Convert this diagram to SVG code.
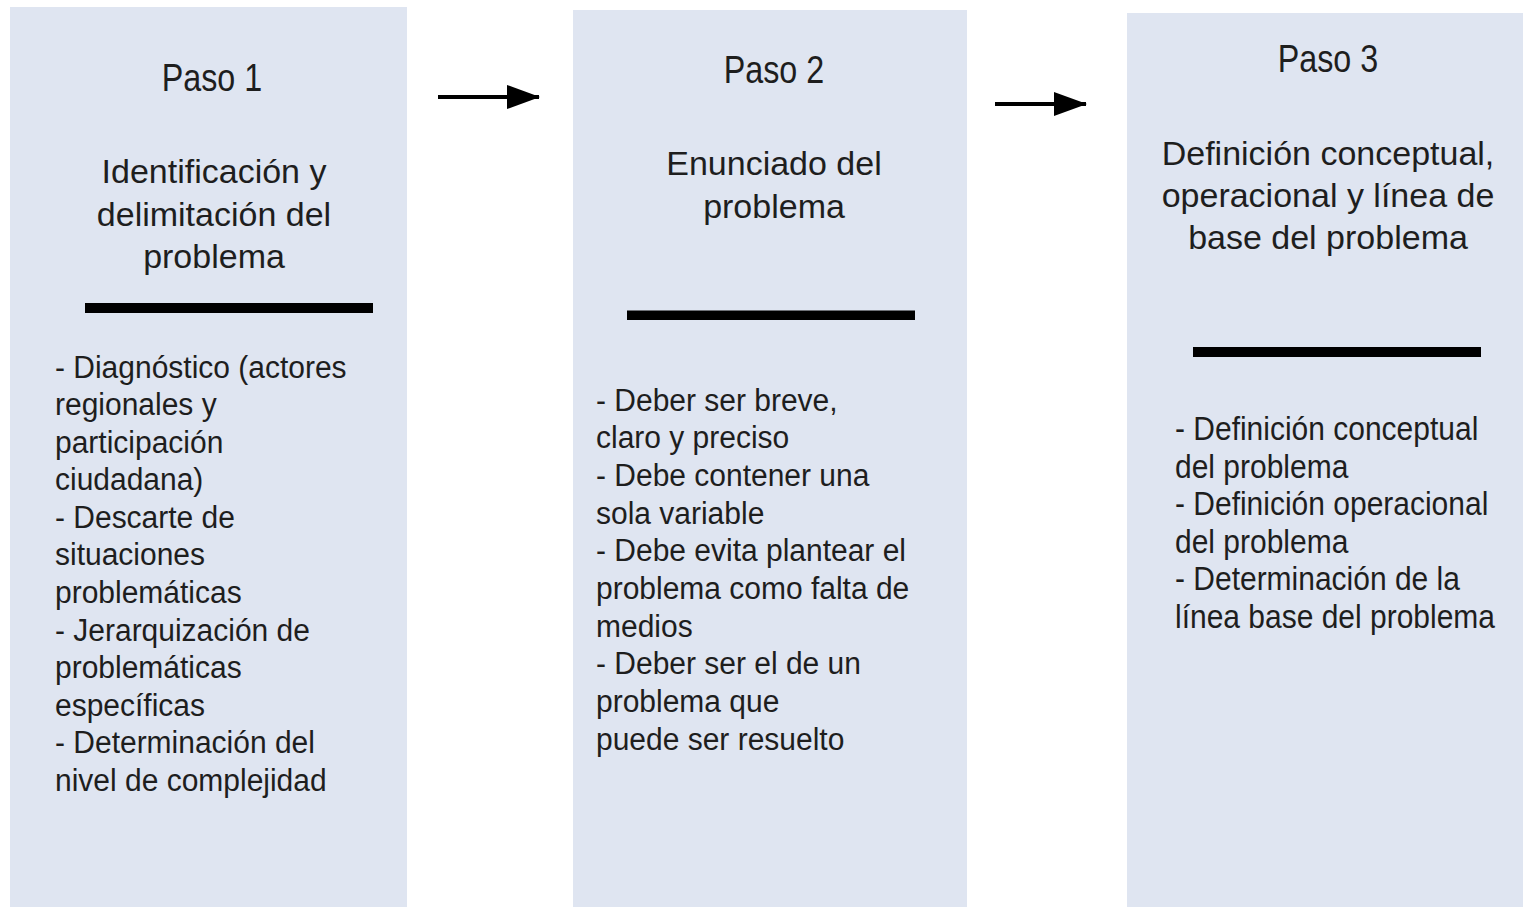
<svg xmlns="http://www.w3.org/2000/svg" width="1523" height="907" viewBox="0 0 1523 907">
<style>
.box{fill:#dfe5f1}
.bar{fill:#000}
text{font-family:"Liberation Sans",Arial,sans-serif;fill:#1e1e1e}
.paso{font-size:38px;text-anchor:middle}
.head{font-size:34px;text-anchor:middle}
.body{font-size:30px}
.conn{stroke:#000;stroke-width:4;fill:none}
</style>
<defs>
<marker id="arrow" markerUnits="userSpaceOnUse" markerWidth="33" markerHeight="24" refX="32" refY="12" orient="auto">
<path d="M0,0 L33,12 L0,24 Z" fill="#000"/>
</marker>
</defs>
<rect width="1523" height="907" fill="#fff"/>
<g id="paso1">
<rect class="box" x="10" y="7" width="397" height="900"/>
<text class="paso" transform="translate(212,91) scale(0.85,1)">Paso 1</text>
<text class="head" x="214" y="183">Identificación y</text>
<text class="head" x="214" y="226">delimitación del</text>
<text class="head" x="214" y="268">problema</text>
<rect class="bar" x="85" y="303" width="288" height="10"/>
<text class="body" transform="translate(0,377.5) scale(1,1.07)">
<tspan x="55" y="0">- Diagnóstico (actores</tspan>
<tspan x="55" y="35.14">regionales y</tspan>
<tspan x="55" y="70.28">participación</tspan>
<tspan x="55" y="105.42">ciudadana)</tspan>
<tspan x="55" y="140.56">- Descarte de</tspan>
<tspan x="55" y="175.7">situaciones</tspan>
<tspan x="55" y="210.84">problemáticas</tspan>
<tspan x="55" y="245.98">- Jerarquización de</tspan>
<tspan x="55" y="281.12">problemáticas</tspan>
<tspan x="55" y="316.26">específicas</tspan>
<tspan x="55" y="351.4">- Determinación del</tspan>
<tspan x="55" y="386.54">nivel de complejidad</tspan>
</text>
</g>
<g id="paso2">
<rect class="box" x="573" y="10" width="394" height="897"/>
<text class="paso" transform="translate(774,83) scale(0.85,1)">Paso 2</text>
<text class="head" x="774" y="175">Enunciado del</text>
<text class="head" x="774" y="218">problema</text>
<rect class="bar" x="627" y="310.5" width="288" height="9.5"/>
<text class="body" transform="translate(0,410.5) scale(1,1.07)">
<tspan x="596" y="0">- Deber ser breve,</tspan>
<tspan x="596" y="35.23">claro y preciso</tspan>
<tspan x="596" y="70.46">- Debe contener una</tspan>
<tspan x="596" y="105.69">sola variable</tspan>
<tspan x="596" y="140.92">- Debe evita plantear el</tspan>
<tspan x="596" y="176.15">problema como falta de</tspan>
<tspan x="596" y="211.38">medios</tspan>
<tspan x="596" y="246.61">- Deber ser el de un</tspan>
<tspan x="596" y="281.84">problema que</tspan>
<tspan x="596" y="317.07">puede ser resuelto</tspan>
</text>
</g>
<g id="paso3">
<rect class="box" x="1127" y="13" width="396" height="894"/>
<text class="paso" transform="translate(1328,72) scale(0.85,1)">Paso 3</text>
<text class="head" x="1328" y="165">Definición conceptual,</text>
<text class="head" x="1328" y="207">operacional y línea de</text>
<text class="head" x="1328" y="249">base del problema</text>
<rect class="bar" x="1193" y="347" width="288" height="10"/>
<text class="body" transform="translate(0,440) scale(1,1.1)">
<tspan x="1175" y="0">- Definición conceptual</tspan>
<tspan x="1175" y="34.18">del problema</tspan>
<tspan x="1175" y="68.36">- Definición operacional</tspan>
<tspan x="1175" y="102.54">del problema</tspan>
<tspan x="1175" y="136.72">- Determinación de la</tspan>
<tspan x="1175" y="170.9">línea base del problema</tspan>
</text>
</g>
<g id="connectors">
<line class="conn" x1="438" y1="97" x2="539" y2="97" marker-end="url(#arrow)"/>
<line class="conn" x1="995" y1="104" x2="1086" y2="104" marker-end="url(#arrow)"/>
</g>
</svg>
